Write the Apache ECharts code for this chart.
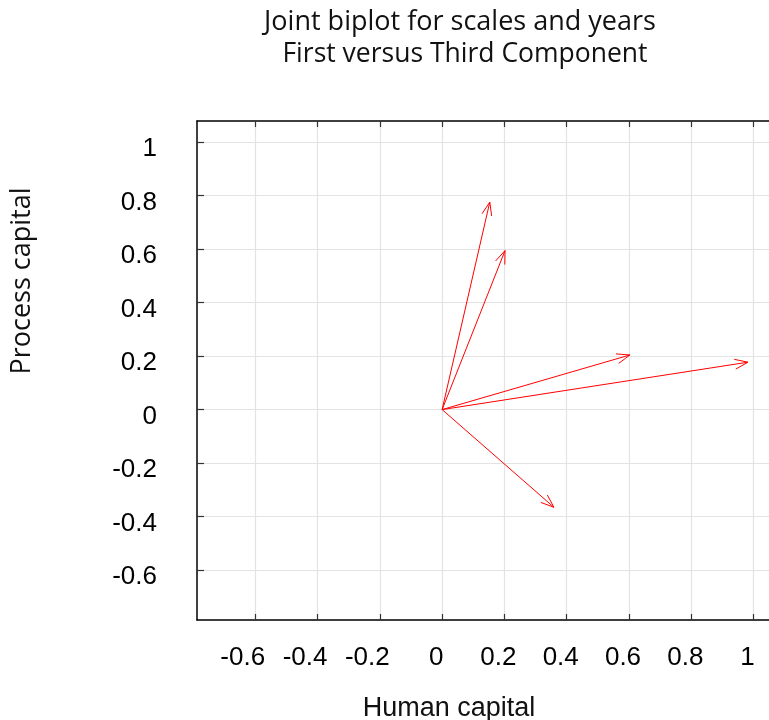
<!DOCTYPE html>
<html>
<head>
<meta charset="utf-8">
<script src="https://cdn.jsdelivr.net/npm/echarts@6/dist/echarts.min.js"></script>
<style>html,body{margin:0;padding:0;background:#fff;}#c{width:769px;height:720px;}</style>
</head>
<body>
<div id="c"></div>
<script>
// Arrow end points (first component, third component)
const arrowX = [0.153, 0.202, 0.603, 0.982, 0.359];
const arrowY = [0.775, 0.594, 0.204, 0.177, -0.365];
// Tick values / labels
const xTicks = [-0.6, -0.4, -0.2, 0, 0.2, 0.4, 0.6, 0.8, 1];
const yTicks = [-0.6, -0.4, -0.2, 0, 0.2, 0.4, 0.6, 0.8, 1];
const titleLines = ['Joint biplot for scales and years', 'First versus Third Component'];
const xName = 'Human capital';
const yName = 'Process capital';

const xMin = -0.787, xMax = 1.08;
const yMin = -0.786, yMax = 1.078;

const chart = echarts.init(document.getElementById('c'), null, {renderer: 'canvas'});

const tickFont = {fontFamily: 'Liberation Sans', fontSize: 26, color: '#000'};
const axisLineStyle = {color: '#000', width: 1.5};
const tickStyle = {color: '#333', width: 1.2};
const gridStyle = {color: '#e3e3e3', width: 1.2};

function fmt(v) { return String(Math.round(v * 10) / 10); }
function xFmt(v) {
  const s = fmt(v);
  return v < 0 ? '{n|' + s + '}' : '{p|' + s + '}';
}
function yFmt(v) { return '{a|' + fmt(v) + '}'; }

const option = {
  animation: false,
  backgroundColor: '#fff',
  grid: {left: 197, top: 121, width: 581.5, height: 499, containLabel: false, outerBoundsMode: 'none'},
  graphic: [
    {type: 'text', style: {text: titleLines[0], x: 460, y: 9, textAlign: 'center', fontFamily: 'Open Sans', fontSize: 27, fill: '#111'}},
    {type: 'text', style: {text: titleLines[1], x: 465, y: 41, textAlign: 'center', fontFamily: 'Open Sans', fontSize: 26.5, fill: '#111'}},
    {type: 'text', style: {text: xName, x: 449, y: 695, textAlign: 'center', fontFamily: 'Liberation Sans', fontSize: 27, fill: '#111'}},
    {type: 'text', x: 22, y: 281, rotation: Math.PI / 2, style: {text: yName, x: 0, y: 0, textAlign: 'center', textVerticalAlign: 'middle', fontFamily: 'Open Sans', fontSize: 27, fill: '#111'}}
  ],
  xAxis: [
    {
      type: 'value', position: 'bottom', min: xMin, max: xMax,
      axisLine: {show: true, onZero: false, lineStyle: axisLineStyle},
      axisTick: {show: true, inside: true, length: 6, lineStyle: tickStyle, customValues: xTicks},
      axisLabel: Object.assign({show: true, margin: 25, customValues: xTicks, formatter: xFmt,
        rich: {
          n: Object.assign({padding: [0, 25, 0, 0]}, tickFont),
          p: Object.assign({padding: [0, 12, 0, 0]}, tickFont)
        }}, tickFont),
      splitLine: {show: true, lineStyle: gridStyle, customValues: xTicks}
    },
    {
      type: 'value', position: 'top', min: xMin, max: xMax,
      axisLine: {show: true, onZero: false, lineStyle: axisLineStyle},
      axisTick: {show: true, inside: true, length: 6, lineStyle: tickStyle, customValues: xTicks},
      axisLabel: {show: false},
      splitLine: {show: false}
    }
  ],
  yAxis: [
    {
      type: 'value', position: 'left', min: yMin, max: yMax,
      axisLine: {show: true, onZero: false, lineStyle: axisLineStyle},
      axisTick: {show: true, inside: true, length: 7, lineStyle: tickStyle, customValues: yTicks},
      axisLabel: Object.assign({show: true, margin: 40, customValues: yTicks, formatter: yFmt,
        rich: {a: Object.assign({padding: [14, 0, 0, 0]}, tickFont)}}, tickFont),
      splitLine: {show: true, lineStyle: gridStyle, customValues: yTicks}
    },
    {
      type: 'value', position: 'right', min: yMin, max: yMax,
      axisLine: {show: true, onZero: false, lineStyle: axisLineStyle},
      axisTick: {show: true, inside: true, length: 7, lineStyle: tickStyle, customValues: yTicks},
      axisLabel: {show: false},
      splitLine: {show: false}
    }
  ],
  series: [{
    type: 'custom',
    coordinateSystem: 'cartesian2d',
    xAxisIndex: 0, yAxisIndex: 0,
    clip: false,
    data: arrowX.map((x, i) => [x, arrowY[i]]),
    renderItem: function (params, api) {
      const p0 = api.coord([0, 0]);
      const p1 = api.coord([api.value(0), api.value(1)]);
      const ang = Math.atan2(p1[1] - p0[1], p1[0] - p0[0]);
      const L = 14, a = 0.36;
      const b1 = [p1[0] - L * Math.cos(ang - a), p1[1] - L * Math.sin(ang - a)];
      const b2 = [p1[0] - L * Math.cos(ang + a), p1[1] - L * Math.sin(ang + a)];
      return {
        type: 'group',
        children: [
          {type: 'line', shape: {x1: p0[0], y1: p0[1], x2: p1[0], y2: p1[1]}, style: {stroke: '#ff0000', lineWidth: 1}},
          {type: 'polyline', shape: {points: [b1, p1, b2]}, style: {stroke: '#ff0000', fill: null, lineWidth: 1}}
        ]
      };
    }
  }]
};
chart.setOption(option);
</script>
</body>
</html>
